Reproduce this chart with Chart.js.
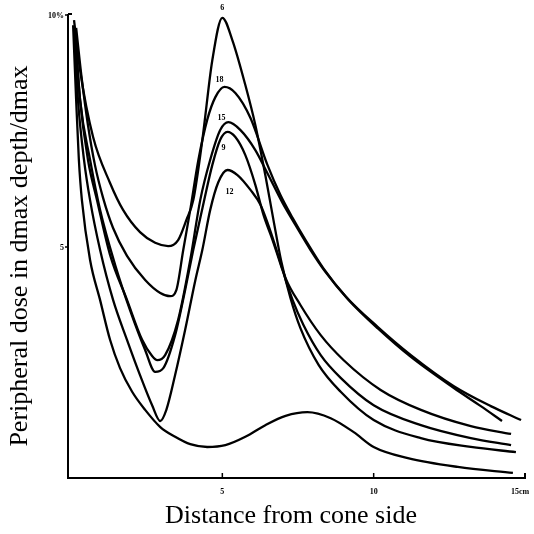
<!DOCTYPE html>
<html>
<head>
<meta charset="utf-8">
<script src="https://cdn.jsdelivr.net/npm/chart.js@4.4.0/dist/chart.umd.min.js"></script>
<style>
    html, body { margin: 0; padding: 0; background: #fff; }
    canvas { display: block; }
</style>
</head>
<body>
<canvas id="doseChart" width="534" height="534"></canvas>
<script>
// Peripheral dose curves (x in cm, y in %)
const curveLabels = ['6', '18', '15', '9', '12', ''];

const x6  = [0.10, 0.30, 0.73, 1.29, 1.72, 2.28, 2.78, 3.21, 3.54, 3.81, 4.04, 4.34, 4.67, 5.00, 5.33, 5.76, 6.09, 6.42, 6.69, 6.95, 7.25, 7.58, 8.18, 8.91, 10.0, 11.56, 13.21, 14.70];
const y6  = [9.89, 8.81, 7.37, 6.38, 5.80, 5.32, 5.09, 5.02, 5.15, 5.58, 6.01, 7.31, 9.03, 9.94, 9.46, 8.49, 7.63, 6.55, 5.58, 4.68, 3.90, 3.25, 2.46, 1.88, 1.27, 0.88, 0.69, 0.58];

const x18 = [0.17, 0.36, 0.56, 0.79, 1.06, 1.39, 1.85, 2.45, 2.95, 3.28, 3.48, 3.71, 3.94, 4.21, 4.50, 4.77, 5.07, 5.43, 5.93, 6.49, 6.92, 7.32, 7.75, 8.34, 9.07, 10.13, 11.23, 12.65, 13.87, 14.87];
const y18 = [9.72, 8.60, 7.63, 6.77, 6.06, 5.41, 4.81, 4.29, 4.01, 3.94, 4.07, 4.94, 5.80, 6.88, 7.74, 8.23, 8.45, 8.32, 7.78, 6.77, 6.12, 5.63, 5.15, 4.54, 3.94, 3.28, 2.67, 2.00, 1.57, 1.27];

const x15 = [0.13, 0.30, 0.56, 0.86, 1.29, 1.85, 2.35, 2.68, 2.85, 3.11, 3.54, 3.94, 4.27, 4.60, 4.93, 5.20, 5.60, 6.09, 6.49, 6.99, 7.42, 7.91, 8.41, 9.17, 10.13, 11.23, 12.65, 13.54, 14.24];
const y15 = [9.68, 8.17, 6.88, 6.01, 4.83, 3.86, 3.00, 2.65, 2.56, 2.67, 3.43, 4.72, 6.01, 6.88, 7.52, 7.69, 7.52, 7.09, 6.59, 5.95, 5.47, 4.94, 4.46, 3.86, 3.25, 2.63, 1.96, 1.57, 1.25];

const x9  = [0.13, 0.30, 0.63, 0.96, 1.46, 1.95, 2.45, 2.78, 3.05, 3.44, 3.77, 4.04, 4.40, 4.67, 4.93, 5.17, 5.43, 5.76, 6.09, 6.36, 6.66, 6.99, 7.32, 7.68, 8.25, 8.91, 10.0, 11.56, 13.21, 14.54];
const y9  = [9.68, 8.17, 6.88, 5.80, 4.61, 3.64, 2.78, 2.31, 2.39, 3.10, 4.07, 4.94, 6.01, 6.77, 7.31, 7.48, 7.37, 6.98, 6.34, 5.69, 5.15, 4.50, 3.86, 3.32, 2.67, 2.18, 1.59, 1.16, 0.88, 0.73];

const x12 = [0.10, 0.23, 0.43, 0.63, 0.96, 1.39, 1.85, 2.28, 2.68, 2.95, 3.15, 3.44, 3.77, 4.11, 4.34, 4.60, 4.87, 5.17, 5.50, 5.93, 6.26, 6.52, 6.79, 7.09, 7.58, 8.25, 9.01, 10.23, 11.56, 13.21, 14.54];
const y12 = [9.68, 8.17, 6.88, 6.01, 4.94, 3.86, 3.00, 2.24, 1.59, 1.25, 1.49, 2.24, 3.21, 4.29, 4.94, 5.80, 6.40, 6.66, 6.55, 6.23, 5.91, 5.47, 4.94, 4.33, 3.75, 3.10, 2.56, 1.92, 1.49, 1.14, 0.97];

const xLow = [0.07, 0.17, 0.26, 0.36, 0.63, 0.96, 1.29, 1.62, 2.02, 2.45, 2.95, 3.44, 3.94, 4.50, 5.10, 5.76, 6.42, 7.09, 7.81, 8.58, 9.34, 10.0, 11.13, 12.78, 14.60];
const yLow = [9.78, 8.17, 6.88, 6.01, 4.72, 3.86, 3.00, 2.39, 1.88, 1.49, 1.12, 0.91, 0.75, 0.69, 0.73, 0.91, 1.16, 1.36, 1.44, 1.31, 1.01, 0.69, 0.45, 0.26, 0.13];

const xTicks = [5, 10, 15];
const xTickText = ['5', '10', '15cm'];
const yTicks = [5, 10];
const yTickText = ['5', '10%'];

const xSeries = [x6, x18, x15, x9, x12, xLow];
const ySeries = [y6, y18, y15, y9, y12, yLow];

const serif = '"Liberation Serif", "DejaVu Serif", serif';

// Offsets for the energy labels near each peak (px)
const labelOffsets = [[0, -10], [-5, -7], [-7, -4], [-4, 16], [2, 22], [0, 0]];

const axesPlugin = {
    id: 'paperAxes',
    afterDraw(chart) {
        const ctx = chart.ctx;
        const xs = chart.scales.x;
        const ys = chart.scales.y;
        const x0 = xs.getPixelForValue(0) - 3;
        const yBase = ys.getPixelForValue(0) - 1;
        const yTop = ys.getPixelForValue(10);
        const xEnd = xs.getPixelForValue(15);

        ctx.save();
        ctx.strokeStyle = '#000';
        ctx.fillStyle = '#000';
        ctx.lineWidth = 2;

        // axis lines
        ctx.beginPath();
        ctx.moveTo(x0, yTop - 1);
        ctx.lineTo(x0, yBase);
        ctx.lineTo(xEnd, yBase);
        ctx.lineTo(xEnd, yBase - 5);
        ctx.stroke();

        // top hook
        ctx.beginPath();
        ctx.moveTo(x0, yTop - 1);
        ctx.lineTo(x0 + 4, yTop - 1);
        ctx.stroke();

        // x ticks
        ctx.lineWidth = 1.5;
        xTicks.forEach((v, i) => {
            const px = xs.getPixelForValue(v);
            ctx.beginPath();
            ctx.moveTo(px, yBase);
            ctx.lineTo(px, yBase - 5);
            ctx.stroke();
            ctx.font = 'bold 8px ' + serif;
            const last = i === xTicks.length - 1;
            ctx.textAlign = last ? 'left' : 'center';
            ctx.textBaseline = 'middle';
            ctx.fillText(xTickText[i], last ? px - 14 : px, yBase + 14);
        });

        // y ticks
        yTicks.forEach((v, i) => {
            const py = ys.getPixelForValue(v);
            ctx.beginPath();
            ctx.moveTo(x0 - 3, py);
            ctx.lineTo(x0, py);
            ctx.stroke();
            ctx.font = 'bold 8px ' + serif;
            ctx.textAlign = 'right';
            ctx.textBaseline = 'middle';
            ctx.fillText(yTickText[i], x0 - 4, py + 1);
        });

        // axis titles
        ctx.font = '26px ' + serif;
        ctx.textAlign = 'center';
        ctx.textBaseline = 'alphabetic';
        ctx.fillText('Distance from cone side', 291, 523);

        ctx.save();
        ctx.translate(27, 256);
        ctx.rotate(-Math.PI / 2);
        ctx.fillText('Peripheral dose in dmax depth/dmax', 0, 0);
        ctx.restore();

        // curve labels at the central peaks
        ctx.font = 'bold 8px ' + serif;
        ctx.textAlign = 'center';
        ctx.textBaseline = 'middle';
        chart.data.datasets.forEach((ds, i) => {
            if (!curveLabels[i]) return;
            let peak = null;
            ds.data.forEach(p => {
                if (p.x > 4 && p.x < 7 && (!peak || p.y > peak.y)) peak = p;
            });
            const px = xs.getPixelForValue(peak.x) + labelOffsets[i][0];
            const py = ys.getPixelForValue(peak.y) + labelOffsets[i][1];
            ctx.fillText(curveLabels[i], px, py);
        });

        ctx.restore();
    }
};

const datasets = xSeries.map((xv, i) => ({
    label: curveLabels[i] || 'base',
    data: xv.map((x, j) => ({ x: x, y: ySeries[i][j] })),
    borderColor: '#000',
    borderWidth: 2.3,
    pointRadius: 0,
    fill: false,
    cubicInterpolationMode: 'monotone',
    clip: false
}));

const ctx = document.getElementById('doseChart').getContext('2d');
new Chart(ctx, {
    type: 'line',
    data: { datasets: datasets },
    options: {
        responsive: false,
        animation: false,
        devicePixelRatio: 1,
        layout: { padding: { left: 71, right: 9, top: 15, bottom: 55 } },
        plugins: {
            legend: { display: false },
            tooltip: { enabled: false }
        },
        scales: {
            x: { type: 'linear', min: 0, max: 15, display: false },
            y: { type: 'linear', min: 0, max: 10, display: false }
        }
    },
    plugins: [axesPlugin]
});
</script>
</body>
</html>
